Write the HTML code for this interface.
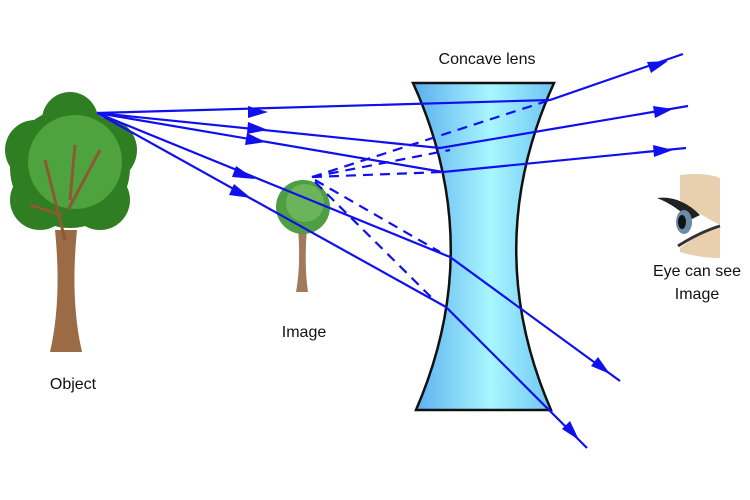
<!DOCTYPE html>
<html><head><style>
html,body{margin:0;padding:0;background:#fff;}
svg{display:block}
text{font-family:"Liberation Sans",sans-serif;font-size:16px;fill:#111}
</style></head><body>
<svg width="750" height="500" viewBox="0 0 750 500" xmlns="http://www.w3.org/2000/svg">
<defs>
<linearGradient id="lg" x1="0" x2="1" y1="0" y2="0">
<stop offset="0" stop-color="#5aaeee"/><stop offset="0.55" stop-color="#a8f6ff"/><stop offset="1" stop-color="#6cc4f2"/>
</linearGradient>
</defs>
<!-- lens -->
<path d="M413,83 L554,83 Q480,246 551,410 L416,410 Q487,246 413,83 Z" fill="url(#lg)" stroke="#111" stroke-width="2.5"/>
<!-- big tree -->
<path d="M55,230 Q62,300 50,352 L82,352 Q70,300 77,230 Z" fill="#9b6b45"/>
<g fill="#2f7f22">
<circle cx="70" cy="168" r="60"/><circle cx="35" cy="150" r="30"/><circle cx="105" cy="150" r="32"/><circle cx="40" cy="200" r="30"/><circle cx="100" cy="200" r="30"/><circle cx="70" cy="120" r="28"/>
</g>
<circle cx="75" cy="162" r="47" fill="#4fa33e"/>
<path d="M65,240 L45,160 M68,210 L100,150 M62,215 L30,205 M70,200 L75,145" stroke="#8b5a35" stroke-width="3" fill="none"/>
<!-- small tree -->
<path d="M298,228 Q301,265 296,292 L308,292 Q304,265 307,228 Z" fill="#a07a5a"/>
<circle cx="303" cy="207" r="27" fill="#4e9e42"/><circle cx="305" cy="203" r="19" fill="#6cb45a"/>
<!-- dashed -->
<g stroke="#1010ee" stroke-width="2.2" fill="none" stroke-dasharray="10,7">
<path d="M312,177 L550,100"/><path d="M312,177 L450,150"/><path d="M312,177 L443,172"/>
<path d="M315,180 L440,252"/><path d="M315,182 L432,298"/>
</g>
<!-- rays -->
<g stroke="#1010ee" stroke-width="2.2" fill="none">
<path d="M97,113 L550,100 L683,54"/>
<path d="M97,113 L440,148 L688,106"/>
<path d="M97,113 L443,172 L686,148"/>
<path d="M97,113 L450,257 L620,381"/>
<path d="M97,113 L446,307 L587,448"/>
</g>
<g fill="#1010ee">
<polygon points="268,112 248,106 248,118"/>
<polygon points="268,130 248,122 247,134"/>
<polygon points="266,142 247,133 245,145"/>
<polygon points="255,179 236,166 232,177"/>
<polygon points="251,198 234,184 229,195"/>
<polygon points="668,61 647,62 651,73"/>
<polygon points="673,109 653,106 655,118"/>
<polygon points="673,150 653,145 654,157"/>
<polygon points="610,374 598,357 591,366"/>
<polygon points="579,440 570,421 562,429"/>
</g>
<!-- eye -->
<path d="M680,175 Q705,172 720,178 L720,225 Q700,215 680,200 Z" fill="#e8cfae"/>
<path d="M657,198 Q680,195 700,215 L690,220 Q675,205 657,198 Z" fill="#222"/>
<ellipse cx="684" cy="222" rx="8" ry="12" fill="#6a8aa8"/><ellipse cx="682" cy="222" rx="4" ry="7" fill="#111"/>
<path d="M680,248 Q700,232 720,228 L720,258 Q700,258 680,252 Z" fill="#e8cfae"/>
<path d="M678,246 Q700,232 720,226" stroke="#333" stroke-width="3" fill="none"/>
<text x="487" y="64" text-anchor="middle">Concave lens</text>
<text x="73" y="389" text-anchor="middle">Object</text>
<text x="304" y="337" text-anchor="middle">Image</text>
<text x="697" y="276" text-anchor="middle">Eye can see</text>
<text x="697" y="299" text-anchor="middle">Image</text>
</svg>
</body></html>
